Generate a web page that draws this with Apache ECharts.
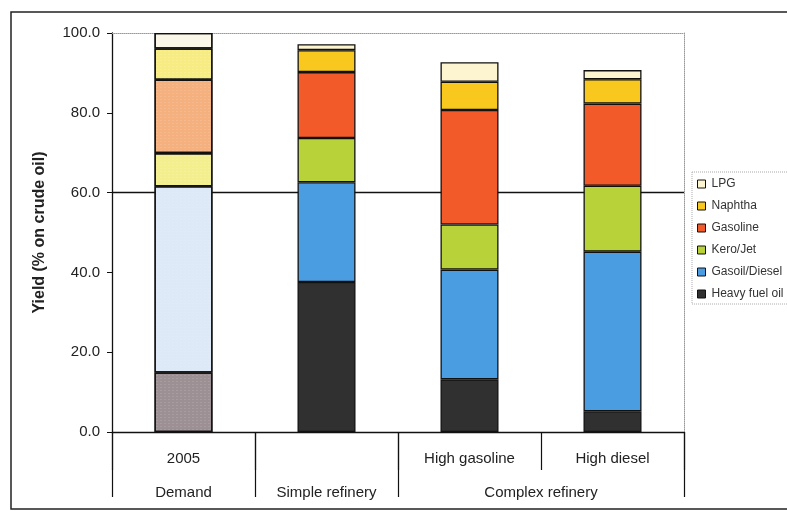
<!DOCTYPE html>
<html>
<head>
<meta charset="utf-8">
<script src="https://cdn.jsdelivr.net/npm/echarts@6/dist/echarts.min.js"></script>
<style>
  html, body { margin: 0; padding: 0; background: #fff; }
  #chart { width: 787px; height: 511px; }
</style>
</head>
<body>
<div id="chart"></div>
<script>
// Refinery yields versus product demand (% on crude oil)
const categories = ['2005', '', 'High gasoline', 'High diesel'];
const groups = ['Demand', 'Simple refinery', 'Complex refinery'];
const groupCenters = [0.5, 1.5, 3];
const groupBounds = [0, 1, 2, 4];
const yTicks = [0, 20, 40, 60, 80, 100];

// Stacked from the bottom up
const seriesNames = ['Heavy fuel oil', 'Gasoil/Diesel', 'Kero/Jet', 'Gasoline', 'Naphtha', 'LPG'];
const heavyFuelOil = [14.9, 37.6, 13.2, 5.2];
const gasoilDiesel = [46.7, 25.0, 27.5, 40.0];
const keroJet      = [8.3, 11.1, 11.3, 16.5];
const gasoline     = [18.4, 16.5, 28.7, 20.6];
const naphtha      = [7.8, 5.5, 7.1, 6.1];
const lpg          = [3.9, 1.5, 4.9, 2.3];
const seriesValues = [heavyFuelOil, gasoilDiesel, keroJet, gasoline, naphtha, lpg];

// Solid colours for refinery bars, pale tints for the demand bar
const colors = ['#303030', '#4a9de0', '#b8d23a', '#f25a2a', '#f8c81e', '#fcf5cf'];
const demandColors = ['#9d9094', '#dde9f6', '#f4ef8e', '#f4b07e', '#f7ec84', '#fbf7e8'];

const chart = echarts.init(document.getElementById('chart'), null, { renderer: 'canvas' });

const series = seriesNames.map((name, s) => ({
  name: name,
  type: 'bar',
  stack: 'yield',
  barWidth: 58,
  xAxisIndex: 0,
  yAxisIndex: 0,
  itemStyle: { color: colors[s], borderColor: '#111', borderWidth: 1.3 },
  data: seriesValues[s].map((v, i) => i === 0
    ? { value: v, itemStyle: { color: demandColors[s], borderColor: '#111', borderWidth: 1.3,
        decal: { symbol: 'rect', symbolSize: 0.5, color: 'rgba(255,255,255,0.45)', dashArrayX: [2, 2], dashArrayY: [1, 2] } } }
    : v)
}));

const option = {
  animation: false,
  backgroundColor: '#fff',
  textStyle: { fontFamily: 'Liberation Sans, Arial, sans-serif' },
  graphic: [{
    type: 'rect',
    shape: { x: 11, y: 12, width: 800, height: 497 },
    style: { fill: 'none', stroke: '#222', lineWidth: 1.5 },
    z: -10
  }],
  grid: { left: 112, right: 103, top: 33, bottom: 79 },
  legend: {
    orient: 'vertical',
    left: 692,
    top: 172,
    data: seriesNames.slice().reverse(),
    itemWidth: 8,
    itemHeight: 8,
    itemGap: 8,
    padding: [5, 20, 3, 5],
    borderColor: '#aaa',
    borderWidth: 1,
    borderType: 'dotted',
    backgroundColor: '#fff',
    icon: 'rect',
    itemStyle: { borderColor: '#111', borderWidth: 1 },
    textStyle: { fontSize: 12, color: '#333', lineHeight: 14, padding: [0, 0, 0, 1] }
  },
  xAxis: [
    {
      type: 'category',
      data: categories,
      position: 'bottom',
      axisLine: { show: true, lineStyle: { color: '#111', width: 1.3 } },
      axisTick: { show: true, interval: 0, length: 38, lineStyle: { color: '#111', width: 1.2 } },
      axisLabel: { interval: 0, margin: 19, fontSize: 15, color: '#222' }
    },
    {
      type: 'value',
      min: 0,
      max: 4,
      position: 'bottom',
      axisLine: { show: false, onZero: false },
      splitLine: { show: false },
      axisTick: { show: true, customValues: groupBounds, length: 65, lineStyle: { color: '#111', width: 1.2 } },
      axisLabel: {
        customValues: groupCenters,
        margin: 53,
        fontSize: 15,
        color: '#222',
        formatter: v => groups[groupCenters.indexOf(v)]
      }
    },
    {
      type: 'value',
      min: 0,
      max: 4,
      position: 'top',
      axisLine: { show: true, onZero: false, lineStyle: { color: '#999', type: 'dotted', width: 1 } },
      axisTick: { show: false },
      axisLabel: { show: false },
      splitLine: { show: false }
    }
  ],
  yAxis: [
    {
      type: 'value',
      min: yTicks[0],
      max: yTicks[yTicks.length - 1],
      interval: 20,
      name: 'Yield (% on crude oil)',
      nameLocation: 'middle',
      nameGap: 64,
      nameTextStyle: { fontSize: 16, fontWeight: 'bold', color: '#222' },
      axisLine: { show: true, onZero: false, lineStyle: { color: '#111', width: 1.3 } },
      axisTick: { show: true, length: 5, lineStyle: { color: '#111' } },
      axisLabel: { fontSize: 15, color: '#222', margin: 12, formatter: v => v.toFixed(1) },
      splitLine: { show: true, lineStyle: { color: ['transparent', 'transparent', 'transparent', '#111', 'transparent', 'transparent'], width: 1.3 } }
    },
    {
      type: 'value',
      min: 0,
      max: 100,
      position: 'right',
      axisLine: { show: true, onZero: false, lineStyle: { color: '#999', type: 'dotted', width: 1 } },
      axisTick: { show: false },
      axisLabel: { show: false },
      splitLine: { show: false }
    }
  ],
  series: series
};

chart.setOption(option);
</script>
</body>
</html>
